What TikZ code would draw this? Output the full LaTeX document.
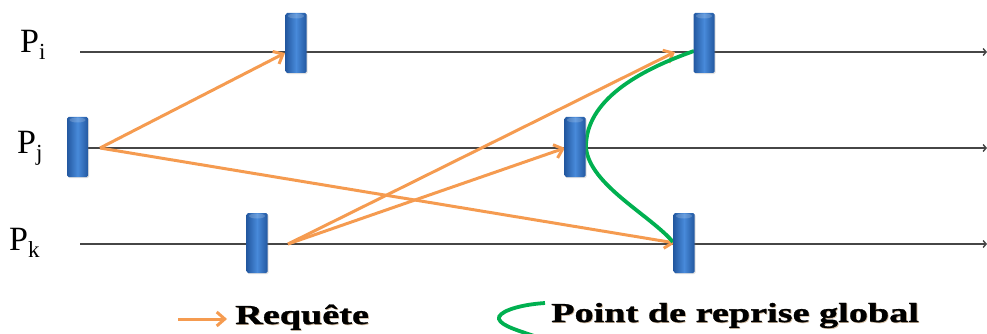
\documentclass[tikz,border=0pt]{standalone}
\usepackage{fontspec}
\setmainfont{Liberation Serif}
\newfontfamily\legendfont[FakeStretch=1.39,FakeBold=1]{Liberation Serif}
\usetikzlibrary{arrows.meta,shadows}

\definecolor{lineGray}{RGB}{70,70,70}
\definecolor{reqOrange}{RGB}{245,155,80}
\definecolor{ckptGreen}{RGB}{0,176,80}
\definecolor{blkDark}{RGB}{35,88,160}
\definecolor{blkLight}{RGB}{72,138,218}
\definecolor{textShade}{RGB}{150,100,40}

\tikzset{
  timeline/.style={draw=lineGray, line width=1.4pt, -{Straight Barb[length=3pt,width=7pt]}},
  req/.style={draw=reqOrange, line width=3pt, -{Straight Barb[length=8pt,width=14pt]}},
  ckpt/.style={draw=ckptGreen, line width=3.8pt},
  evblock/.style={rectangle, minimum width=21pt, minimum height=60pt, inner sep=0pt,
    rounded corners=1.5pt, left color=blkDark, right color=blkDark, middle color=blkLight,
    drop shadow={shadow xshift=1pt, shadow yshift=-1.2pt, opacity=0.25},
    path picture={\fill[white,opacity=0.18]
      ([yshift=-3pt]path picture bounding box.north) ellipse [x radius=8pt, y radius=2.5pt];}},
  proclabel/.style={anchor=base west, inner sep=0pt, font=\fontsize{34}{34}\selectfont},
  legendtext/.style={anchor=base west, inner sep=0pt, font=\legendfont\bfseries\fontsize{27.5}{28}\selectfont}
}
\newcommand{\procsub}[1]{\raisebox{-7pt}{\fontsize{23}{23}\selectfont #1}}
% bold legend text with a soft warm shade underneath
\newcommand{\shadedtext}[1]{\rlap{\kern0.8pt\raisebox{-0.8pt}{\textcolor{textShade!45}{#1}}}#1}

\begin{document}
\begin{tikzpicture}[x=1pt,y=-1pt]
  \useasboundingbox (0,0) rectangle (987,334);
  \clip (0,0) rectangle (987,334);

  % process labels
  \node[proclabel] (li) at (20,53)  {P\procsub{i}};
  \node[proclabel] (lj) at (17,153) {P\procsub{j}};
  \node[proclabel] (lk) at (9,250)  {P\procsub{k}};

  % time lines
  \coordinate (iS) at (80,52);  \coordinate (iE) at (987,52);
  \coordinate (jS) at (80,148); \coordinate (jE) at (987,148);
  \coordinate (kS) at (80,244); \coordinate (kE) at (987,244);
  \draw[timeline] (iS) -- (iE);
  \draw[timeline] (jS) -- (jE);
  \draw[timeline] (kS) -- (kE);

  % message sources and targets
  \coordinate (jo)  at (100,148);
  \coordinate (ko)  at (288,244);
  \coordinate (ti1) at (285,53);
  \coordinate (ti2) at (675,52);
  \coordinate (tj2) at (565,148);
  \coordinate (tk2) at (675,243);

  % requests
  \draw[req] (jo) -- (ti1);
  \draw[req] (jo) -- (tk2);
  \draw[req] (ko) -- (ti2);
  \draw[req] (ko) -- (tj2);

  % global checkpoint line
  \coordinate (gA) at (694,51);
  \coordinate (gV) at (586,148);
  \coordinate (gB) at (673,242);
  \draw[ckpt] (gA) .. controls (640,70) and (585,100) .. (gV)
                   .. controls (590,185) and (650,215) .. (gB);

  % checkpoint blocks
  \node[evblock] (bi1) at (296,43) {};
  \node[evblock] (bj0) at (77.5,147) {};
  \node[evblock] (bk0) at (257,243) {};
  \node[evblock] (bi2) at (704,43) {};
  \node[evblock] (bj2) at (575,147) {};
  \node[evblock] (bk2) at (684,243) {};

  % legend
  \coordinate (lgA) at (178,319);
  \coordinate (lgB) at (227,319);
  \draw[req] (lgA) -- (lgB);
  \node[legendtext] (lreq) at (235,324) {\shadedtext{Requête}};

  \coordinate (hkA) at (545,303);
  \coordinate (hkV) at (499,319);
  \coordinate (hkB) at (537,337);
  \draw[ckpt] (hkA) .. controls (515,305) and (497,313) .. (hkV)
                    .. controls (501,326) and (520,331) .. (hkB);
  \node[legendtext] (lckpt) at (551,322) {\shadedtext{Point de reprise global}};
\end{tikzpicture}
\end{document}
